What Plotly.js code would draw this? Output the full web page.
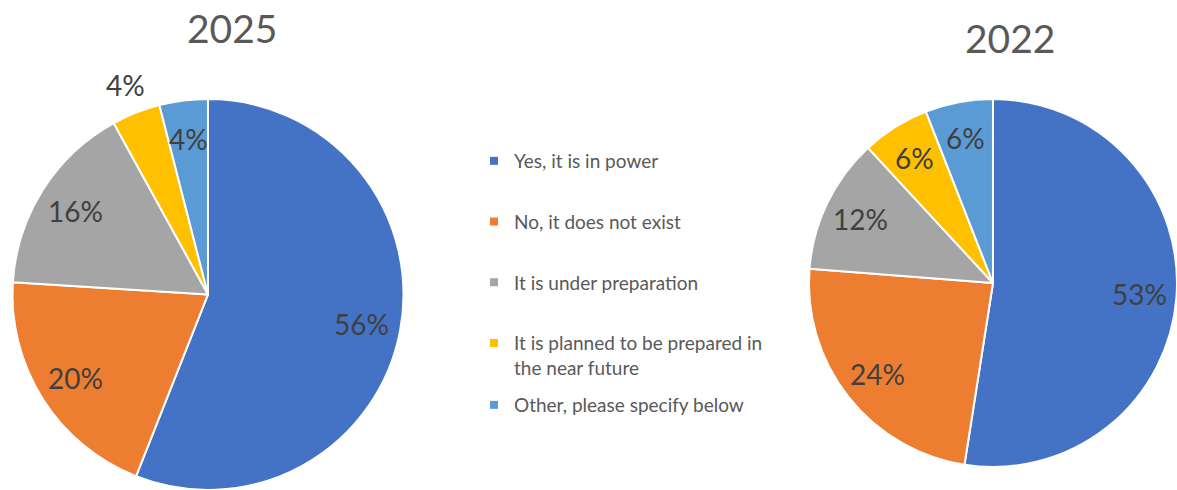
<!DOCTYPE html>
<html>
<head>
<meta charset="utf-8">
<script src="https://cdn.plot.ly/plotly-3.0.1.min.js"></script>
<style>html,body{margin:0;padding:0;background:#fff;}#chart{width:1177px;height:490px;}</style>
</head>
<body>
<div id="chart"></div>
<script>
const categories = [
  "Yes, it is in power",
  "No, it does not exist",
  "It is under preparation",
  "It is planned to be prepared in<br>the near future",
  "Other, please specify below"
];
const colors = ["#4472C4", "#ED7D31", "#A5A5A5", "#FFC000", "#5B9BD5"];
const values2025 = [56, 20, 16, 4, 4];
const values2022 = [53, 24, 12, 6, 6];
const titles = ["2025", "2022"];

const W = 1177, H = 490;
const FONT = "Lato, 'Open Sans', sans-serif";

const domain2025 = { x: [0.0093, 0.3441], y: [0, 0.798] };
const domain2022 = { x: [0.6873, 1.0], y: [0.0449, 0.80] };

const pieCommon = {
  type: "pie",
  labels: categories,
  sort: false,
  direction: "clockwise",
  rotation: 0,
  marker: { colors: colors, line: { color: "#ffffff", width: 2 } },
  textinfo: "none",
  showlegend: false,
  hovertemplate: "%{label}: %{value}%<extra></extra>"
};

const traces = [
  Object.assign({}, pieCommon, { values: values2025, domain: domain2025 }),
  Object.assign({}, pieCommon, { values: values2022, domain: domain2022 })
];

categories.forEach((c, i) => {
  traces.push({
    type: "scatter",
    mode: "markers",
    x: [null], y: [null],
    name: c,
    legendgroup: "g" + i,
    legend: i === 4 ? "legend2" : "legend",
    marker: { symbol: "square", size: 8, color: colors[i] },
    hoverinfo: "skip"
  });
});

// percentage labels placed along each slice's mid-angle, derived from the values
function sliceLabels(values, domain, outsideIdx) {
  const x0 = domain.x[0] * W, x1 = domain.x[1] * W;
  const y0 = (1 - domain.y[1]) * H, y1 = (1 - domain.y[0]) * H;
  const cx = (x0 + x1) / 2, cy = (y0 + y1) / 2;
  const r = Math.min(x1 - x0, y1 - y0) / 2;
  const total = values.reduce((a, b) => a + b, 0);
  let cum = 0;
  return values.map((v, i) => {
    const mid = (cum + v / 2) / total * 2 * Math.PI;
    cum += v;
    const f = outsideIdx.indexOf(i) >= 0 ? 1.15 : 0.8;
    const px = cx + f * r * Math.sin(mid);
    const py = cy - f * r * Math.cos(mid);
    return {
      text: v + "%", x: px / W, y: 1 - py / H, xref: "paper", yref: "paper",
      xanchor: "center", yanchor: "middle", showarrow: false,
      font: { family: FONT, size: 28, color: "#404040" }
    };
  });
}

const legendCommon = {
  font: { family: FONT, size: 19, color: "#595959" },
  bgcolor: "rgba(0,0,0,0)",
  borderwidth: 0,
  xanchor: "left",
  yanchor: "top",
  valign: "top",
  itemclick: false,
  itemdoubleclick: false
};

const layout = {
  width: W,
  height: H,
  margin: { l: 0, r: 0, t: 0, b: 0 },
  paper_bgcolor: "#ffffff",
  plot_bgcolor: "#ffffff",
  font: { family: FONT, color: "#595959" },
  xaxis: { visible: false, domain: [0.45, 0.46] },
  yaxis: { visible: false, domain: [0.0, 0.01] },
  showlegend: true,
  legend: Object.assign({}, legendCommon, { x: 0.4027, y: 1 - 142 / H, tracegroupgap: 33 }),
  legend2: Object.assign({}, legendCommon, { x: 0.4027, y: 1 - 386 / H }),
  annotations: [
    { text: titles[0], x: 232 / W, y: 1 - 28 / H, xref: "paper", yref: "paper",
      xanchor: "center", yanchor: "middle", showarrow: false,
      font: { family: FONT, size: 39, color: "#595959" } },
    { text: titles[1], x: 1010 / W, y: 1 - 38 / H, xref: "paper", yref: "paper",
      xanchor: "center", yanchor: "middle", showarrow: false,
      font: { family: FONT, size: 39, color: "#595959" } }
  ].concat(sliceLabels(values2025, domain2025, [3]), sliceLabels(values2022, domain2022, []))
};

Plotly.newPlot("chart", traces, layout, { displayModeBar: false });
</script>
</body>
</html>
